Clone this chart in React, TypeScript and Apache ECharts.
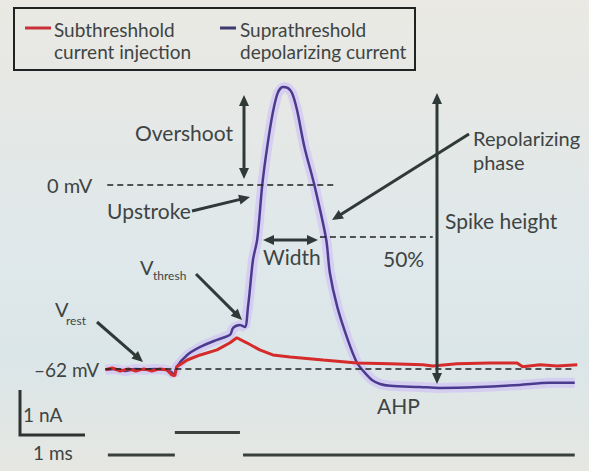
import React, { useEffect, useRef } from "react";
import * as echarts from "echarts";

// Suprathreshold depolarizing current (time ms, membrane potential mV)
const supraTime = [0.0, 0.15, 0.32, 0.48, 0.64, 0.8, 0.96, 1.06, 1.11, 1.15, 1.32, 1.53, 1.8, 2.01, 2.06, 2.17, 2.25, 2.3, 2.33, 2.38, 2.45, 2.53, 2.61, 2.7, 2.78, 2.86, 2.94, 3.01, 3.09, 3.21, 3.37, 3.56, 3.62, 3.74, 3.91, 4.06, 4.19, 4.3, 4.43, 4.59, 5.07, 5.39, 6.03, 6.68, 7.16, 7.57];
const supraMv = [-62.3, -62.0, -62.7, -62.0, -62.3, -62.0, -62.3, -63.0, -64.0, -61.3, -57.3, -54.6, -52.2, -50.5, -48.2, -47.2, -47.9, -41.1, -35.4, -25.3, -18.2, 0, 12.8, 24.3, 31.0, 33.0, 32.7, 31.0, 25.3, 12.8, 0, -18.2, -29.6, -41.1, -52.2, -60.0, -63.4, -65.7, -67.1, -67.7, -68.1, -68.4, -68.1, -67.4, -66.7, -66.7];

// Subthreshold current injection
const subTime = [0.0, 0.11, 0.24, 0.37, 0.49, 0.62, 0.75, 0.88, 0.99, 1.07, 1.12, 1.15, 1.32, 1.53, 1.8, 2.01, 2.12, 2.28, 2.49, 2.7, 2.98, 3.51, 4.06, 4.59, 5.12, 5.28, 5.67, 6.2, 6.64, 6.73, 7.01, 7.29, 7.61];
const subMv = [-62.3, -61.7, -62.7, -62.0, -62.7, -62.0, -62.7, -62.0, -62.3, -64.0, -64.3, -61.3, -59.0, -57.3, -55.6, -53.2, -51.5, -53.2, -55.6, -57.3, -58.0, -59.0, -60.0, -60.3, -60.6, -61.0, -60.3, -60.0, -60.0, -61.3, -60.6, -61.0, -60.6];

// Injected current (nA); null = gap
const stimTime = [0.04, 1.12, 1.125, 1.12, 2.17, 2.175, 2.22, 7.57];
const stimNa: (number | null)[] = [0, 0, null, 0.5, 0.5, null, 0, 0];

// Reference levels (mV)
const restMv = -62;
const zeroMv = 0;
const halfMv = -17.5;

const legendNames = ["Subthreshhold\ncurrent injection", "Suprathreshold\ndepolarizing current"];

const FONT = "Lato, 'Open Sans', sans-serif";
const TXT = "#3e4443";
const ARR = "#2f3a38";

function txt(text: string, x: number, y: number, size = 21, extra: any = {}) {
  return {
    type: "text",
    x,
    y,
    silent: true,
    z: 20,
    style: { text, fill: TXT, font: `${size}px ${FONT}`, verticalAlign: "middle", align: "left", ...extra },
  };
}

function arrow(x1: number, y1: number, x2: number, y2: number, both = false) {
  const dx = x2 - x1, dy = y2 - y1;
  const len = Math.hypot(dx, dy);
  const ux = dx / len, uy = dy / len;
  const nx = -uy, ny = ux;
  const L = 11, W = 5;
  const head = (tx: number, ty: number, sx: number, sy: number) => ({
    type: "polygon",
    silent: true,
    z: 20,
    shape: {
      points: [
        [tx, ty],
        [tx - sx * L + nx * W, ty - sy * L + ny * W],
        [tx - sx * L - nx * W, ty - sy * L - ny * W],
      ],
    },
    style: { fill: ARR },
  });
  const sx1 = both ? x1 + ux * (L - 2) : x1;
  const sy1 = both ? y1 + uy * (L - 2) : y1;
  const els: any[] = [
    {
      type: "line",
      silent: true,
      z: 20,
      shape: { x1: sx1, y1: sy1, x2: x2 - ux * (L - 2), y2: y2 - uy * (L - 2) },
      style: { stroke: ARR, lineWidth: 3 },
    },
    head(x2, y2, ux, uy),
  ];
  if (both) els.push(head(x1, y1, -ux, -uy));
  return els;
}

export default function App() {
  const ref = useRef<HTMLDivElement>(null);
  useEffect(() => {
    if (!ref.current) return;
    const chart = echarts.init(ref.current, undefined, { renderer: "svg" });
    const supra = supraTime.map((t, i) => [t, supraMv[i]]);
    const sub = subTime.map((t, i) => [t, subMv[i]]);
    const stim = stimTime.map((t, i) => [t, stimNa[i] === null ? "-" : stimNa[i]]);
    const dashed = { type: [6, 4], color: "#1e2322", width: 1.5 };
    const [l1a, l1b] = legendNames[0].split("\n");
    const [l2a, l2b] = legendNames[1].split("\n");

    chart.setOption({
      animation: false,
      backgroundColor: new echarts.graphic.LinearGradient(0, 0, 0, 1, [
        { offset: 0, color: "#eae9e4" },
        { offset: 0.2, color: "#e6e8e5" },
        { offset: 0.5, color: "#e0e8ea" },
        { offset: 0.75, color: "#dbe6e9" },
        { offset: 0.88, color: "#e0e6e5" },
        { offset: 1, color: "#e6e7e2" },
      ]),
      grid: { left: 0, right: 0, top: 0, bottom: 0, containLabel: false },
      xAxis: { type: "value", min: -1.7, max: 7.8, show: false },
      yAxis: [
        { type: "value", min: -96.4, max: 62.3, show: false },
        { type: "value", min: -0.356, max: 10.11, show: false },
      ],
      series: [
        {
          type: "line",
          data: supra,
          showSymbol: false,
          silent: true,
          z: 1,
          lineStyle: { width: 10, color: "rgba(206,190,247,0.6)" },
          markLine: {
            silent: true,
            symbol: ["none", "none"],
            label: { show: false },
            lineStyle: dashed,
            data: [
              [{ coord: [0, restMv] }, { coord: [7.57, restMv] }],
              [{ coord: [0.03, zeroMv] }, { coord: [3.7, zeroMv] }],
              [{ coord: [3.46, halfMv] }, { coord: [5.28, halfMv] }],
            ],
          },
        },
        {
          name: "Suprathreshold",
          type: "line",
          data: supra,
          showSymbol: false,
          smooth: 0.3,
          z: 3,
          lineStyle: { width: 2.5, color: "#4b3b8f" },
        },
        {
          name: "Subthreshhold",
          type: "line",
          data: sub,
          showSymbol: false,
          z: 4,
          lineStyle: { width: 3, color: "#d52b2b" },
        },
        {
          type: "line",
          yAxisIndex: 1,
          data: stim,
          showSymbol: false,
          connectNulls: false,
          z: 4,
          lineStyle: { width: 3, color: "#3a403e", cap: "butt" },
        },
      ],
      graphic: [
        // legend
        { type: "rect", silent: true, z: 20, shape: { x: 14, y: 8, width: 401, height: 62 }, style: { fill: "none", stroke: "#1f2322", lineWidth: 2 } },
        { type: "line", silent: true, z: 20, shape: { x1: 25, y1: 28, x2: 51, y2: 28 }, style: { stroke: "#c8303a", lineWidth: 3 } },
        txt(l1a, 54, 29, 19),
        txt(l1b, 54, 51, 19),
        { type: "line", silent: true, z: 20, shape: { x1: 220, y1: 28, x2: 236, y2: 28 }, style: { stroke: "#3d3a6e", lineWidth: 3 } },
        txt(l2a, 240, 29, 19),
        txt(l2b, 240, 51, 19),
        // labels
        txt("0 mV", 47, 185, 20),
        txt("Overshoot", 135, 132),
        txt("Upstroke", 107, 210),
        txt("Width", 263, 256),
        txt("V", 140, 267, 20),
        txt("thresh", 153, 275, 12),
        txt("V", 55, 309, 20),
        txt("rest", 66, 320, 12),
        txt("\u201362 mV", 34, 369, 19),
        txt("1 nA", 23, 414, 19),
        txt("1 ms", 33, 452, 19),
        txt("AHP", 377, 405),
        txt("50%", 383, 258),
        txt("Spike height", 445, 220),
        txt("Repolarizing", 473, 138, 20),
        txt("phase", 473, 162, 20),
        // scale bars
        { type: "polyline", silent: true, z: 20, shape: { points: [[20, 390], [20, 435], [85, 435]] }, style: { stroke: "#2f3432", lineWidth: 3, fill: "none" } },
        // arrows
        ...arrow(244, 95, 244, 179, true),
        ...arrow(192, 211, 250, 197),
        ...arrow(263, 240, 318, 240, true),
        ...arrow(196, 274, 242, 320),
        ...arrow(97, 322, 143, 362),
        ...arrow(469, 134, 332, 220),
        ...arrow(437, 93, 437, 384, true),
      ],
    });
    return () => chart.dispose();
  }, []);
  return <div ref={ref} style={{ position: "fixed", left: 0, top: 0, width: 589, height: 471 }} />;
}
